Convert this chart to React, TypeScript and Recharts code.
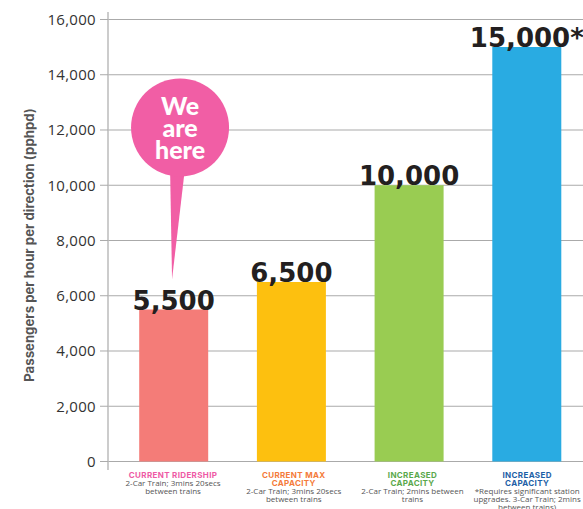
import React from "react";
import { BarChart, Bar, Cell, XAxis, YAxis, CartesianGrid, LabelList, ReferenceDot } from "recharts";

const categories = ["current-ridership", "current-max", "increased-2car", "increased-3car"];
const passengers = [5500, 6500, 10000, 15000];
const barColors = ["#F47C78", "#FDC00F", "#99CC52", "#29ABE2"];
const valueLabels = ["5,500", "6,500", "10,000", "15,000*"];
const headingColors = ["#EE5AA5", "#F47B3A", "#5AA84B", "#1D5FA6"];
const headings = [
  ["CURRENT RIDERSHIP"],
  ["CURRENT MAX", "CAPACITY"],
  ["INCREASED", "CAPACITY"],
  ["INCREASED", "CAPACITY"],
];
const descriptions = [
  ["2-Car Train; 3mins 20secs", "between trains"],
  ["2-Car Train; 3mins 20secs", "between trains"],
  ["2-Car Train; 2mins between", "trains"],
  ["*Requires significant station", "upgrades. 3-Car Train; 2mins", "between trains)"],
];
const yTicks = [0, 2000, 4000, 6000, 8000, 10000, 12000, 14000, 16000];
const calloutLines = ["We", "are", "here"];
const calloutValue = 12090;
const calloutTipValue = 6600;

const rows = categories.map((category, i) => ({
  category,
  passengers: passengers[i],
  label: valueLabels[i],
}));

const PIXELS_PER_UNIT = 0.027625;
const FONT = "'Open Sans', sans-serif";

// Category caption: coloured heading above grey description lines.
function CategoryTick({ x, payload }: any) {
  const i = categories.indexOf(payload.value);
  const head = headings[i];
  const desc = descriptions[i];
  const captionX = x + [-1, 2, 3, 0][i];
  return (
    <g>
      {head.map((line, k) => (
        <text key={line} x={captionX} y={478 + k * 8} textAnchor="middle" fontFamily="Inter, sans-serif"
          fontSize={8} letterSpacing={0.35} fontWeight={700} fill={headingColors[i]}>
          {line}
        </text>
      ))}
      {desc.map((line, k) => (
        <text key={line} x={captionX} y={478 + (head.length + k) * 8} textAnchor="middle" fontFamily={FONT}
          fontSize={8} fill="#555">
          {line}
        </text>
      ))}
    </g>
  );
}

// Speech-pin annotation: a disc with a tapering tail pointing at the first bar.
function CalloutPin({ cx, cy }: any) {
  const centerX = cx + 6;
  const tipY = cy + (calloutValue - calloutTipValue) * PIXELS_PER_UNIT;
  return (
    <g>
      <path d={`M${centerX - 10} ${cy + 40} L${centerX + 5} ${cy + 40} L${centerX - 8} ${tipY} Z`} fill="#F15EA5" />
      <circle cx={centerX} cy={cy} r={49} fill="#F15EA5" />
      {calloutLines.map((line, k) => (
        <text key={line} x={centerX} y={cy - 13 + k * 22} textAnchor="middle" fontFamily="Lato, sans-serif"
          fontWeight={900} fontSize={25} fill="#fff">
          {line}
        </text>
      ))}
    </g>
  );
}

export default function App() {
  return (
    <div style={{ position: "absolute", left: 0, top: 0, width: 583, height: 509, overflow: "hidden", background: "#fff" }}>
      <BarChart width={600} height={509} data={rows} barSize={69}
        margin={{ top: 12, right: 14, bottom: 0, left: 0 }}>
        <CartesianGrid vertical={false} stroke="#aaa" strokeWidth={1.2} horizontalValues={yTicks} />
        <XAxis dataKey="category" height={39} axisLine={false} tickLine={false} interval={0}
          padding={{ left: 7.2, right: 0 }} tick={<CategoryTick />} />
        <YAxis width={108} domain={[-308, 16271]} ticks={yTicks} allowDataOverflow interval={0}
          tickFormatter={(v: number) => v.toLocaleString("en-US")}
          axisLine={{ stroke: "#bbb", strokeWidth: 1.5 }} tickLine={{ stroke: "#aaa" }} tickSize={8} tickMargin={4}
          tick={{ fill: "#333", fontSize: 15, fontFamily: FONT, letterSpacing: 0.3 }}
          label={{
            value: "Passengers per hour per direction (pphpd)",
            angle: -90,
            position: "insideLeft",
            dx: 24,
            dy: 4,
            style: { fill: "#555", fontSize: 13.2, fontWeight: 700, fontFamily: "Inter, sans-serif", textAnchor: "middle" },
          }} />
        <Bar dataKey="passengers" isAnimationActive={false}>
          {rows.map((row, i) => (
            <Cell key={row.category} fill={barColors[i]} />
          ))}
          <LabelList dataKey="label" position="top" offset={0}
            style={{ fill: "#231F20", fontSize: 26, fontWeight: 700, fontFamily: "'DejaVu Sans', sans-serif" }} />
        </Bar>
        <ReferenceDot x={categories[0]} y={calloutValue} ifOverflow="visible" shape={<CalloutPin />} />
      </BarChart>
    </div>
  );
}
